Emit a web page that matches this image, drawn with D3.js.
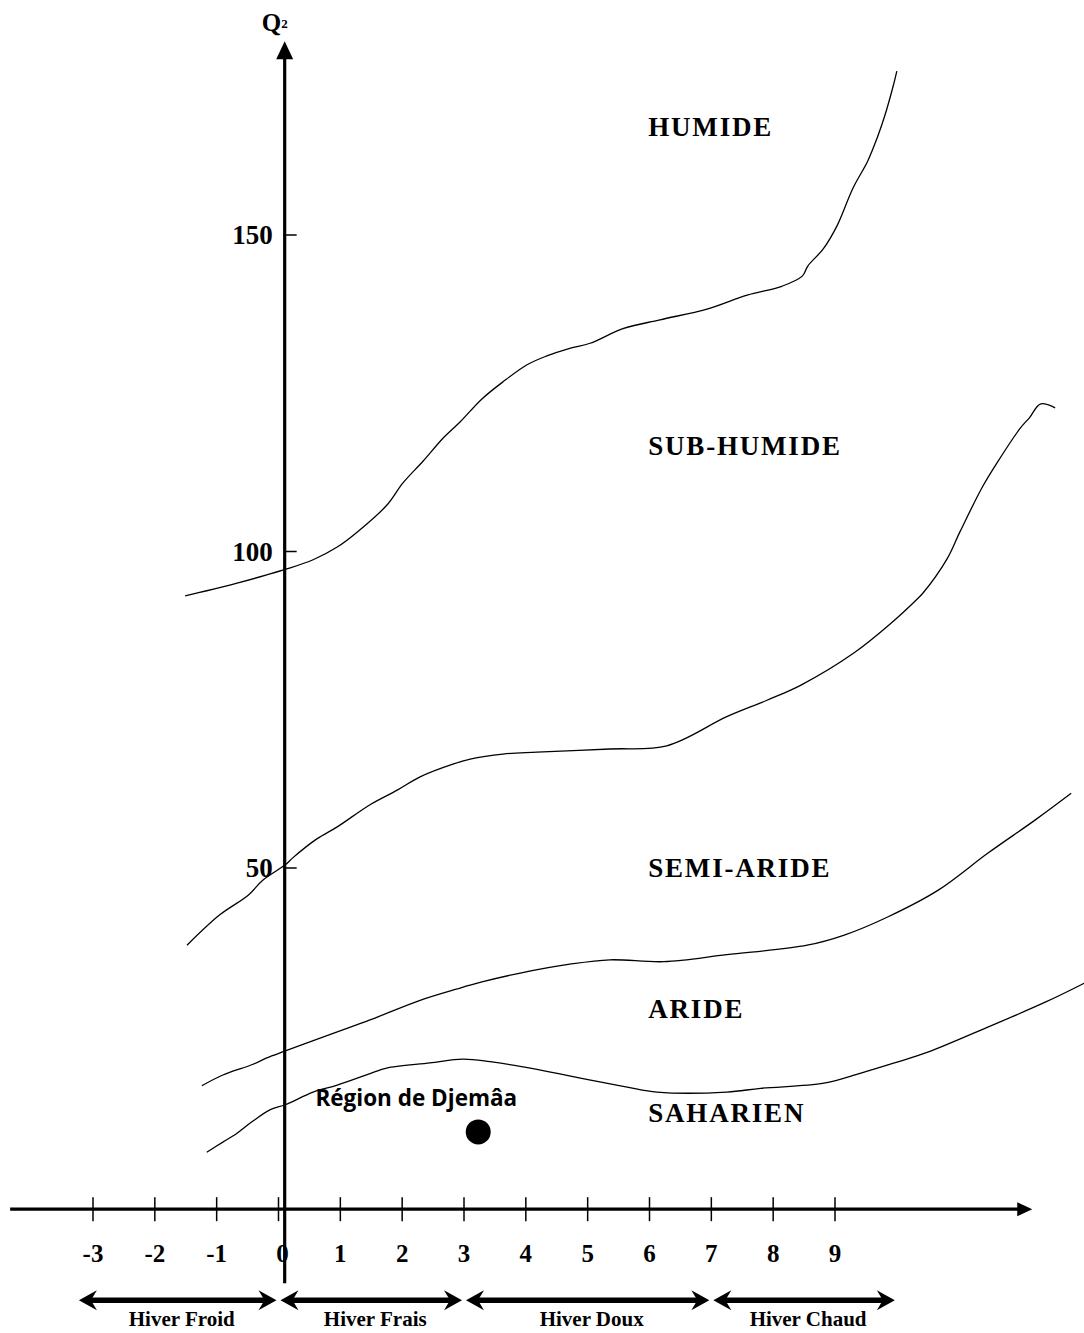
<!DOCTYPE html>
<html>
<head>
<meta charset="utf-8">
<title>Climagramme d'Emberger</title>
<script src="https://d3js.org/d3.v7.min.js"></script>
<style>
body { margin: 0; background: #fff; }
svg { display: block; }
</style>
</head>
<body>
<svg width="1084" height="1333"></svg>
<script>
// data: x = m (mean min temp of coldest month, °C), y = Q2
var xTicks = [-3, -2, -1, 0, 1, 2, 3, 4, 5, 6, 7, 8, 9];
var yTicks = [50, 100, 150];

var humideLimit = [[-1.51,93.0],[-1.16,93.8],[-0.67,95.0],[-0.19,96.3],[0.12,97.2],[0.56,98.7],[0.95,100.7],
  [1.29,103.2],[1.75,107.3],[2.01,110.8],[2.34,114.3],[2.66,117.9],[2.94,120.5],[3.29,124.1],[3.63,126.8],
  [4.02,129.5],[4.34,130.9],[4.71,132.1],[5.04,132.9],[5.57,135.2],[6.17,136.6],[6.93,138.3],[7.58,140.5],
  [8.14,141.9],[8.47,143.5],[8.56,145.1],[8.81,147.8],[9.03,151.4],[9.29,157.4],[9.53,161.7],[9.68,165.3],
  [9.81,169.0],[9.94,173.5],[10.0,175.9]];
var subHumideLimit = [[-1.48,37.8],[-0.95,42.6],[-0.49,45.7],[-0.25,48.1],[0.11,50.5],[0.23,51.6],[0.62,54.6],
  [0.95,56.5],[1.48,60.0],[1.92,62.3],[2.29,64.4],[2.82,66.4],[3.10,67.2],[3.63,68.0],[4.18,68.3],[5.36,68.8],
  [6.28,69.3],[7.25,73.9],[7.90,76.5],[8.45,78.9],[9.31,84.0],[9.91,88.7],[10.31,92.3],[10.42,93.4],
  [10.81,98.8],[11.02,103.1],[11.39,110.3],[11.62,114.0],[11.99,119.4],[12.15,121.2],[12.32,123.3],[12.56,122.7]];
var semiAridLimit = [[-1.24,15.6],[-0.90,17.3],[-0.41,19.0],[-0.19,20.0],[0.11,21.1],[0.95,24.1],[1.48,26.0],
  [2.29,29.1],[2.89,30.9],[3.29,32.0],[3.91,33.4],[4.71,34.8],[5.36,35.5],[6.23,35.2],[7.25,36.3],[8.55,37.8],
  [9.15,39.4],[9.86,42.3],[10.67,46.5],[11.48,52.4],[12.24,57.6],[12.82,61.8]];
var aridLimit = [[-1.16,5.1],[-0.90,6.7],[-0.67,8.1],[-0.43,9.9],[-0.14,11.8],[0.11,12.6],[0.56,14.6],[0.95,15.7],
  [1.59,17.9],[1.75,18.4],[2.45,19.2],[2.98,19.8],[3.42,19.4],[4.18,18.2],[5.09,16.4],[5.64,15.4],[6.12,14.6],
  [7.25,14.6],[7.80,15.2],[8.82,16.0],[9.42,17.6],[9.96,19.2],[10.50,20.9],[11.48,24.9],[12.40,28.8],[13.03,31.8]];
var limits = [humideLimit, subHumideLimit, semiAridLimit, aridLimit];

var zoneNames = ["HUMIDE", "SUB-HUMIDE", "SEMI-ARIDE", "ARIDE", "SAHARIEN"];
var zoneLabelQ = [165.6, 115.2, 48.6, 26.3, 9.9];
var zoneLabelM = 5.98;

var winterNames = ["Hiver Froid", "Hiver Frais", "Hiver Doux", "Hiver Chaud"];
var winterBounds = [-3.26, 0, 3, 7, 10];

var stationName = "Région de Djemâa";
var stationM = 3.23, stationQ = 8.3;

var svg = d3.select("svg");
var serif = "'Liberation Serif', 'Times New Roman', serif";

var x = d3.scaleLinear().domain([-3, 9]).range([93, 835]);
var y = d3.scaleLinear().domain([50, 150]).range([868, 235]);

var axisQ = -3.9, axisM = 0.1; // where the two axes cross

// y axis line + arrow
var yx = x(axisM);
svg.append("line").attr("x1", yx).attr("x2", yx).attr("y1", y(-15.6)).attr("y2", y(178))
  .attr("stroke", "#000").attr("stroke-width", 3.2);
svg.append("path").attr("d", "M" + yx + "," + y(180.6) + "L" + (yx - 8.5) + "," + (y(180.6) + 18) + "L" + (yx + 8.5) + "," + (y(180.6) + 18) + "Z")
  .attr("fill", "#000");

// x axis line + arrow
var xy = y(axisQ);
svg.append("line").attr("x1", x(-4.34)).attr("x2", x(12.0)).attr("y1", xy).attr("y2", xy)
  .attr("stroke", "#000").attr("stroke-width", 3.2);
svg.append("path").attr("d", "M" + x(12.19) + "," + xy + "L" + (x(12.19) - 15) + "," + (xy - 7) + "L" + (x(12.19) - 15) + "," + (xy + 7) + "Z")
  .attr("fill", "#000");

// x ticks
var xt = svg.append("g");
xt.selectAll("line").data(xTicks).enter().append("line")
  .attr("x1", function(d){ return x(d); }).attr("x2", function(d){ return x(d); })
  .attr("y1", xy - 12).attr("y2", xy + 12)
  .attr("stroke", "#000").attr("stroke-width", 1.5);
xt.selectAll("text").data(xTicks).enter().append("text")
  .attr("x", function(d){ return x(d) + (d === 0 ? 4 : 0); }).attr("y", xy + 53)
  .attr("text-anchor", "middle")
  .attr("font-family", serif).attr("font-weight", "bold").attr("font-size", "25px")
  .text(function(d){ return d < 0 ? "-" + Math.abs(d) : String(d); });

// y ticks
var yt = svg.append("g");
yt.selectAll("line").data(yTicks).enter().append("line")
  .attr("x1", yx).attr("x2", yx + 12)
  .attr("y1", function(d){ return y(d); }).attr("y2", function(d){ return y(d); })
  .attr("stroke", "#000").attr("stroke-width", 1.5);
yt.selectAll("text").data(yTicks).enter().append("text")
  .attr("x", yx - 12).attr("y", function(d){ return y(d) + 9; })
  .attr("text-anchor", "end")
  .attr("font-family", serif).attr("font-weight", "bold").attr("font-size", "27px")
  .text(function(d){ return d; });

// Q2 label
var q = svg.append("text").attr("x", yx - 23).attr("y", 31)
  .attr("font-family", serif).attr("font-weight", "bold").attr("font-size", "25px");
q.append("tspan").text("Q");
q.append("tspan").attr("font-size", "13px").attr("dy", -3).text("2");

// limit curves
var line = d3.line()
  .x(function(d){ return x(d[0]); })
  .y(function(d){ return y(d[1]); })
  .curve(d3.curveCatmullRom.alpha(0.5));
svg.append("g").selectAll("path").data(limits).enter().append("path")
  .attr("d", line)
  .attr("fill", "none").attr("stroke", "#000").attr("stroke-width", 1.3);

// zone labels
svg.append("g").selectAll("text").data(zoneNames).enter().append("text")
  .attr("x", x(zoneLabelM)).attr("y", function(d, i){ return y(zoneLabelQ[i]); })
  .attr("font-family", serif).attr("font-weight", "bold").attr("font-size", "27px")
  .attr("letter-spacing", "1.8px")
  .text(function(d){ return d; });

// station
svg.append("circle").attr("cx", x(stationM)).attr("cy", y(stationQ)).attr("r", 12.5).attr("fill", "#000");
svg.append("text").attr("x", x(stationM) + 39).attr("y", y(stationQ) - 26)
  .attr("text-anchor", "end")
  .attr("font-family", "'Open Sans', sans-serif").attr("font-weight", "bold").attr("font-size", "22.5px")
  .text(stationName);

// winter classes: double arrows along the bottom
var wy = y(axisQ) + 91;
function head(tipX, dir) {
  // dir = 1 points right, -1 points left
  return "M" + tipX + "," + wy +
    "L" + (tipX - dir * 18) + "," + (wy - 10) +
    "L" + (tipX - dir * 12) + "," + wy +
    "L" + (tipX - dir * 18) + "," + (wy + 10) + "Z";
}
var winters = winterNames.map(function(n, i){ return {name: n, from: winterBounds[i], to: winterBounds[i + 1]}; });
var wg = svg.append("g").selectAll("g").data(winters).enter().append("g");
wg.append("line")
  .attr("x1", function(d){ return x(d.from) + 2 + 10; }).attr("x2", function(d){ return x(d.to) - 2 - 10; })
  .attr("y1", wy).attr("y2", wy)
  .attr("stroke", "#000").attr("stroke-width", 5.5);
wg.append("path").attr("d", function(d){ return head(x(d.from) + 2, -1); }).attr("fill", "#000");
wg.append("path").attr("d", function(d){ return head(x(d.to) - 2, 1); }).attr("fill", "#000");
wg.append("text")
  .attr("x", function(d){ return (x(d.from) + x(d.to)) / 2 + 4; }).attr("y", wy + 26)
  .attr("text-anchor", "middle")
  .attr("font-family", serif).attr("font-weight", "bold").attr("font-size", "21px")
  .text(function(d){ return d.name; });
</script>
</body>
</html>
